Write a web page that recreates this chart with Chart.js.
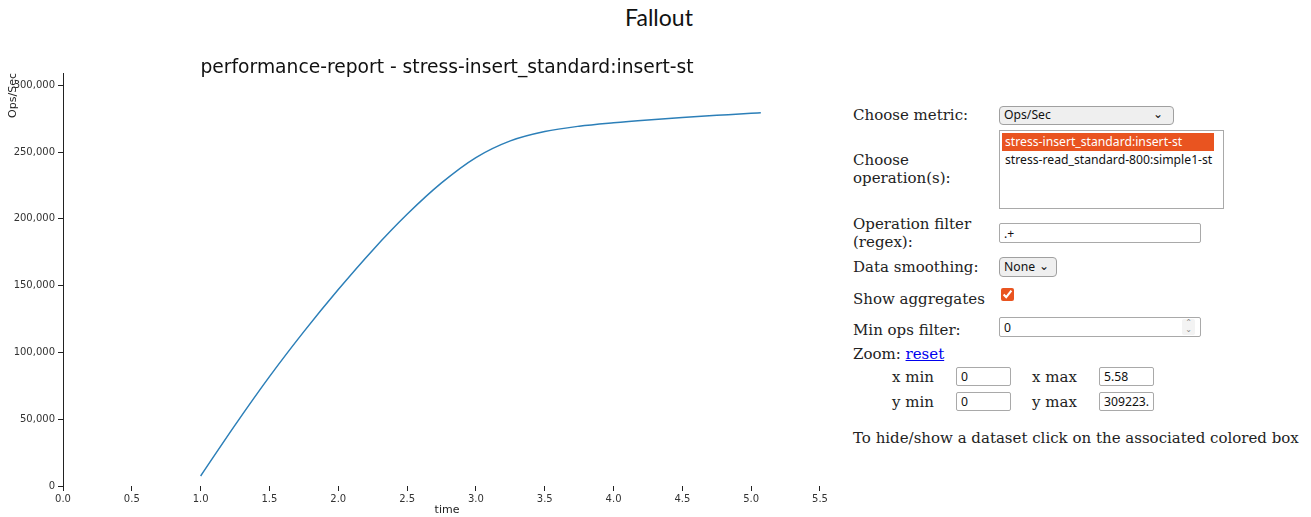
<!DOCTYPE html>
<html>
<head>
<meta charset="utf-8">
<title>Fallout</title>
<script src="https://cdn.jsdelivr.net/npm/chart.js@4.4.0/dist/chart.umd.min.js"></script>
<style>
  body { margin: 0; background: #fff; width: 1311px; height: 517px; overflow: hidden; position: relative; }
  #header { position: absolute; left: 0; top: 3px; width: 1318px; text-align: center; font: 23px Lato, "Noto Sans", sans-serif; color: #111; }
  #chartBox { position: absolute; left: 0; top: 0; width: 840px; height: 517px; }
  .lbl { position: absolute; font: 15px "DejaVu Serif", serif; line-height: 18px; color: #222; white-space: nowrap; }
  .lbl a { color: #0000ee; text-decoration: underline; }
  .ctl { position: absolute; box-sizing: border-box; font: 12.2px "Noto Sans", sans-serif; color: #111; }
  input.ctl { border: 1px solid #a9a9a9; border-radius: 2px; padding: 0 4px; background: #fff; margin: 0; }
  .sel { border: 1px solid #a0a0a0; border-radius: 4px; background: #efefef; padding-left: 4px; line-height: 16px; }
  .sel .chev { position: absolute; right: 10px; top: -1px; }
  .listbox { border: 1px solid #a9a9a9; background: #fff; }
  .listbox div { height: 18px; line-height: 18px; padding-left: 3px; margin: 0 9px 0 2px; }
  .listbox .on { background: #e95420; color: #fff; margin-top: 2px; }
  #agg { position: absolute; left: 1001px; top: 288px; margin: 0; width: 13px; height: 13px; accent-color: #e95420; }
  .spin { position: absolute; left: 1182px; top: 319px; width: 13px; height: 16px; background: #f3f3f3; border-radius: 2px;
          font: 8px "DejaVu Sans", sans-serif; line-height: 7px; text-align: center; color: #888; }
</style>
</head>
<body>
<div id="header">Fallout</div>
<div id="chartBox"><canvas id="opsChart"></canvas></div>

<div class="lbl" style="left:853px; top:106px">Choose metric:</div>
<div class="ctl sel" style="left:999px; top:106px; width:175px; height:19px">Ops/Sec<span class="chev">&#8964;</span></div>

<div class="lbl" style="left:853px; top:151px">Choose<br>operation(s):</div>
<div class="ctl listbox" style="left:999px; top:130px; width:225px; height:79px">
  <div class="on">stress-insert_standard:insert-st</div>
  <div>stress-read_standard-800:simple1-st</div>
</div>

<div class="lbl" style="left:853px; top:215px">Operation filter<br>(regex):</div>
<input class="ctl" type="text" value=".+" style="left:999px; top:223px; width:202px; height:20px">

<div class="lbl" style="left:853px; top:258px">Data smoothing:</div>
<div class="ctl sel" style="left:999px; top:257px; width:58px; height:20px; line-height:18px">None<span class="chev" style="right:7px">&#8964;</span></div>

<div class="lbl" style="left:853px; top:290px">Show aggregates</div>
<input id="agg" type="checkbox" checked>

<div class="lbl" style="left:853px; top:321px">Min ops filter:</div>
<input class="ctl" type="number" value="0" style="left:999px; top:317px; width:202px; height:20px">
<div class="spin">&#8963;<br>&#8964;</div>

<div class="lbl" style="left:853px; top:345px">Zoom: <a href="#">reset</a></div>
<div class="lbl" style="left:892px; top:368px">x min</div>
<input class="ctl" type="text" value="0" style="left:956px; top:367px; width:55px; height:19px">
<div class="lbl" style="left:1032px; top:368px">x max</div>
<input class="ctl" type="text" value="5.58" style="left:1099px; top:367px; width:55px; height:19px">
<div class="lbl" style="left:892px; top:393px">y min</div>
<input class="ctl" type="text" value="0" style="left:956px; top:392px; width:55px; height:19px">
<div class="lbl" style="left:1032px; top:393px">y max</div>
<input class="ctl" type="text" value="309223.2" style="left:1099px; top:392px; width:55px; height:19px">

<div class="lbl" style="left:853px; top:429px">To hide/show a dataset click on the associated colored box</div>

<script>
const chartTitle = 'performance-report - stress-insert_standard:insert-st';
const seriesLabel = 'stress-insert_standard:insert-st';

// elapsed time (s) and throughput
const timeSec = [1.0, 1.25, 1.5, 1.75, 2.0, 2.25, 2.5, 2.75, 3.0, 3.25, 3.5, 3.75, 4.0, 4.25, 4.5, 4.75, 5.0, 5.07];
const opsPerSec = [7500, 45600, 81900, 115600, 147100, 176600, 203400, 226900, 245900, 258400, 265400, 269400, 272000, 274100, 275900, 277500, 279100, 279500];

// axis ticks and zoom bounds
const xTicks = [0, 0.5, 1.0, 1.5, 2.0, 2.5, 3.0, 3.5, 4.0, 4.5, 5.0, 5.5];
const yTicks = [0, 50000, 100000, 150000, 200000, 250000, 300000];
const xMin = 0, xMax = 5.58;
const yMin = 0, yMax = 309223.2;

// draws the report title just above the plot
const reportTitle = {
  id: 'reportTitle',
  afterDraw(chart) {
    const { ctx, chartArea } = chart;
    ctx.save();
    ctx.font = '18.7px "DejaVu Sans"';
    ctx.fillStyle = '#111';
    ctx.textAlign = 'center';
    ctx.textBaseline = 'alphabetic';
    ctx.fillText(chartTitle, (chartArea.left + chartArea.right) / 2, 73);
    ctx.restore();
  }
};

const tickFont = { family: 'DejaVu Sans', size: 10 };
const titleFont = { family: 'DejaVu Sans', size: 11 };

new Chart(document.getElementById('opsChart').getContext('2d'), {
  type: 'line',
  data: {
    datasets: [{
      label: seriesLabel,
      data: timeSec.map((t, i) => ({ x: t, y: opsPerSec[i] })),
      borderColor: '#2c7fb8',
      borderWidth: 1.5,
      pointRadius: 0,
      cubicInterpolationMode: 'monotone',
      fill: false
    }]
  },
  options: {
    responsive: true,
    maintainAspectRatio: false,
    animation: false,
    layout: { padding: { top: 73, right: 9, left: 0, bottom: 0 } },
    plugins: {
      legend: { display: false },
      tooltip: { enabled: false }
    },
    scales: {
      x: {
        type: 'linear',
        min: xMin,
        max: xMax,
        afterBuildTicks: (scale) => { scale.ticks = xTicks.map(v => ({ value: v })); },
        afterFit: (scale) => { scale.height = 31; },
        border: { display: false },
        grid: { drawOnChartArea: false, drawTicks: true, tickLength: 5, color: '#222' },
        ticks: { font: tickFont, color: '#333', padding: 2, maxRotation: 0, autoSkip: false,
                 callback: (v) => Number(v).toFixed(1) },
        title: { display: true, text: 'time', font: titleFont, color: '#222', padding: { top: 0, bottom: 0 } }
      },
      y: {
        type: 'linear',
        min: yMin,
        max: yMax,
        afterBuildTicks: (scale) => { scale.ticks = yTicks.map(v => ({ value: v })); },
        afterFit: (scale) => { scale.width = 63; },
        border: { display: true, color: '#222', width: 1 },
        grid: { drawOnChartArea: false, drawTicks: true, tickLength: 5, color: '#222' },
        ticks: { font: tickFont, color: '#333', padding: 3, autoSkip: false,
                 callback: (v) => Number(v).toLocaleString('en-US') },
        title: { display: true, text: 'Ops/Sec', align: 'end', font: titleFont, color: '#222', padding: { top: 7, bottom: 0 } }
      }
    }
  },
  plugins: [reportTitle]
});
</script>
</body>
</html>
